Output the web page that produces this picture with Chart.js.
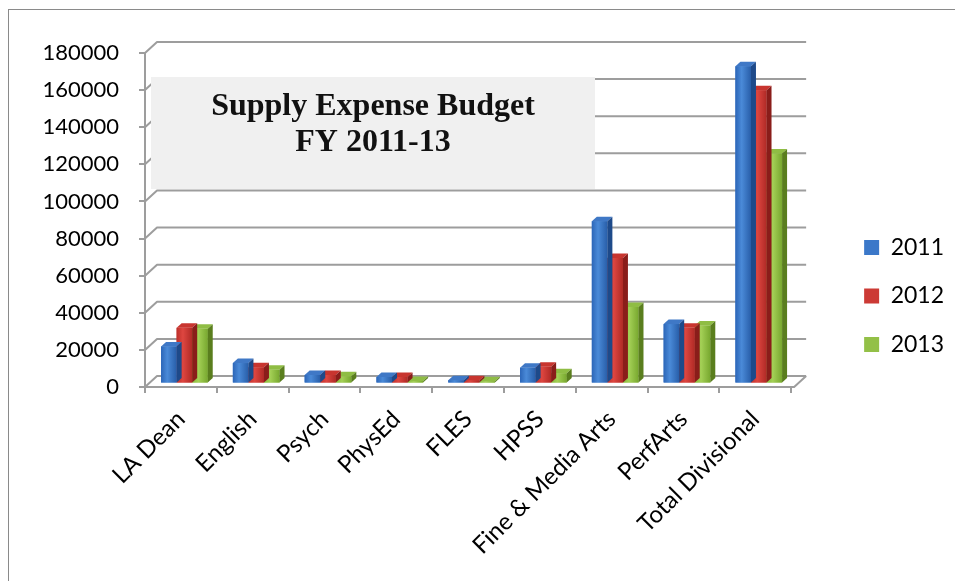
<!DOCTYPE html>
<html>
<head>
<meta charset="utf-8">
<title>Supply Expense Budget</title>
<script src="https://cdn.jsdelivr.net/npm/chart.js@4.4.1/dist/chart.umd.min.js"></script>
<style>
  html, body { margin: 0; padding: 0; background: #fff; }
  canvas { display: block; }
</style>
</head>
<body>
<canvas id="budgetChart" width="955" height="581"></canvas>
<script>
// Supply expense per department, fiscal years 2011-2013
const departments = ['LA Dean', 'English', 'Psych', 'PhysEd', 'FLES', 'HPSS', 'Fine & Media Arts', 'PerfArts', 'Total Divisional'];
const fy2011 = [20000, 11000, 4600, 3500, 1800, 8500, 87500, 32000, 171000];
const fy2012 = [30000, 8700, 4600, 3500, 1800, 9000, 67700, 30000, 158000];
const fy2013 = [29500, 7400, 3900, 1300, 1200, 5500, 41200, 31200, 124000];
const years = ['2011', '2012', '2013'];
const yTicks = [0, 20000, 40000, 60000, 80000, 100000, 120000, 140000, 160000, 180000];
const titleLines = ['Supply Expense Budget', 'FY 2011-13'];

// look of the pseudo-3D columns
const palette = [
    { solid: '#3b78c9', front: ['#2c66b8', '#4a8ad8', '#285ea9'], top: '#3f78c6', side: '#1e4a8a' },
    { solid: '#cc3a35', front: ['#bd302b', '#de4640', '#b02a26'], top: '#c8352f', side: '#8a1d1a' },
    { solid: '#93c047', front: ['#86b83a', '#a4d056', '#78a82f'], top: '#8fbd44', side: '#5a7e1e' }
];
const GRID = '#9d9d9d';
const WALL = { x: 12, y: 11 };      // back wall offset
const SHIFT = 3.5;                  // columns stand a bit behind the front edge
const COL = { x: 5, y: 4.5 };       // column depth

Chart.defaults.font.family = 'Lato';

const budget3d = {
    id: 'budget3d',
    beforeDraw(chart) {
        const ctx = chart.ctx;
        ctx.save();
        ctx.fillStyle = '#fff';
        ctx.fillRect(0, 0, chart.width, chart.height);
        ctx.strokeStyle = '#8a8a8a';
        ctx.lineWidth = 1;
        ctx.strokeRect(8.5, 9.5, chart.width + 10, chart.height + 10);
        ctx.restore();
    },
    beforeDatasetsDraw(chart) {
        const { ctx, chartArea: a, scales: { y } } = chart;
        const right = a.right + 3;
        ctx.save();
        ctx.strokeStyle = GRID;
        ctx.lineWidth = 2;
        ctx.lineJoin = 'round';
        // gridlines on the back wall, joined to the front axis
        y.ticks.forEach(t => {
            const py = y.getPixelForValue(t.value);
            ctx.beginPath();
            ctx.moveTo(a.left, py);
            ctx.lineTo(a.left + WALL.x, py - WALL.y);
            ctx.lineTo(right + WALL.x, py - WALL.y);
            ctx.stroke();
        });
        // floor edges
        const y0 = y.getPixelForValue(0);
        ctx.beginPath();
        ctx.moveTo(a.left, y0);
        ctx.lineTo(right, y0);
        ctx.lineTo(right + WALL.x, y0 - WALL.y);
        ctx.stroke();

        // title panel
        const bx = a.left + 6, by = a.top + 24;
        ctx.fillStyle = '#f0f0f0';
        ctx.fillRect(bx, by, 444, 112);
        ctx.fillStyle = '#111';
        ctx.font = 'bold 32px "Liberation Serif"';
        ctx.textAlign = 'center';
        ctx.textBaseline = 'alphabetic';
        ctx.fillText(titleLines[0], bx + 222, by + 38);
        ctx.fillText(titleLines[1], bx + 222, by + 74);
        ctx.restore();

        ctx.save();
        ctx.translate(SHIFT, -SHIFT);
    },
    afterDatasetDraw(chart, args) {
        const ctx = chart.ctx;
        const p = palette[args.index];
        args.meta.data.forEach(bar => {
            const { x, y, base, width } = bar.getProps(['x', 'y', 'base', 'width'], true);
            const l = x - width / 2, r = x + width / 2;
            const g = ctx.createLinearGradient(l, 0, r, 0);
            g.addColorStop(0, p.front[0]);
            g.addColorStop(0.4, p.front[1]);
            g.addColorStop(1, p.front[2]);
            ctx.fillStyle = g;
            ctx.fillRect(l, y, width, base - y);

            ctx.fillStyle = p.top;
            ctx.beginPath();
            ctx.moveTo(l, y);
            ctx.lineTo(r, y);
            ctx.lineTo(r + COL.x, y - COL.y);
            ctx.lineTo(l + COL.x, y - COL.y);
            ctx.closePath();
            ctx.fill();

            ctx.fillStyle = p.side;
            ctx.beginPath();
            ctx.moveTo(r, y);
            ctx.lineTo(r + COL.x, y - COL.y);
            ctx.lineTo(r + COL.x, base - COL.y);
            ctx.lineTo(r, base);
            ctx.closePath();
            ctx.fill();
        });
    },
    afterDatasetsDraw(chart) {
        chart.ctx.restore();
    }
};

// empty axis used only to reserve room around the plot
const spacer = (position, size) => ({
    type: 'linear',
    position,
    grid: { display: false },
    border: { display: false },
    ticks: { display: false },
    afterFit(s) {
        if (s.isHorizontal()) s.height = size; else s.width = size;
    }
});

new Chart(document.getElementById('budgetChart'), {
    type: 'bar',
    data: {
        labels: departments,
        datasets: [fy2011, fy2012, fy2013].map((vals, i) => ({
            label: years[i],
            data: vals,
            backgroundColor: palette[i].solid,
            borderWidth: 0,
            barPercentage: 1,
            categoryPercentage: 0.65,
            clip: false
        }))
    },
    options: {
        responsive: false,
        animation: false,
        layout: { padding: { top: 11, left: 10, right: 1, bottom: 0 } },
        scales: {
            x: {
                grid: { drawOnChartArea: false, tickLength: 6, color: GRID, lineWidth: 2, offset: true },
                border: { color: GRID, width: 2 },
                ticks: { font: { size: 24 }, color: '#000', minRotation: 45, maxRotation: 45, padding: 12, autoSkip: false },
                afterFit(s) { s.height = 194; }
            },
            y: {
                min: 0,
                max: 180000,
                afterBuildTicks(s) { s.ticks = yTicks.map(v => ({ value: v })); },
                grid: { drawOnChartArea: false, tickLength: 6, color: GRID, lineWidth: 2 },
                border: { color: GRID, width: 2 },
                ticks: { font: { size: 22 }, color: '#000', padding: 20, callback: v => String(v) },
                afterFit(s) { s.width = 135; }
            },
            gapTop: spacer('top', 42),
            gapRight: spacer('right', 47.5)
        },
        plugins: {
            legend: {
                position: 'right',
                align: 'center',
                labels: { font: { size: 23 }, color: '#000', boxWidth: 15, boxHeight: 15, padding: 25.5 }
            },
            tooltip: { enabled: false }
        }
    },
    plugins: [budget3d]
});
</script>
</body>
</html>
